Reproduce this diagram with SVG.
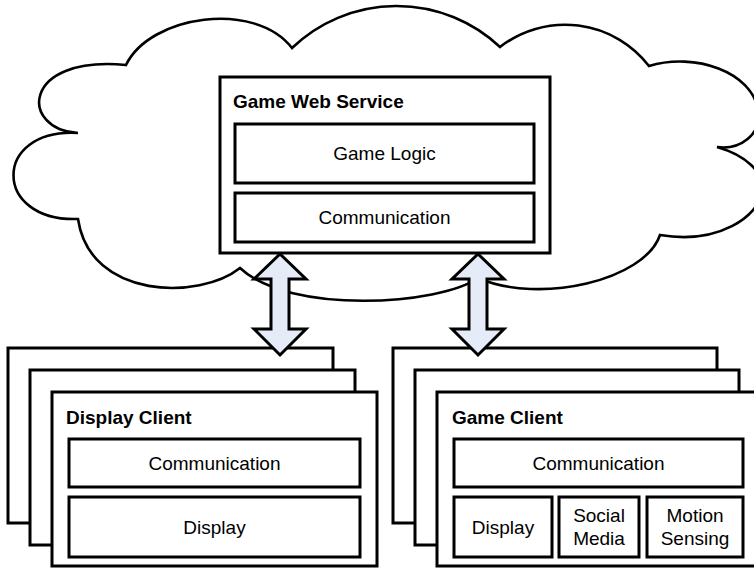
<svg xmlns="http://www.w3.org/2000/svg" width="754" height="570" viewBox="0 0 754 570">
  <style>
    .box { fill: #ffffff; stroke: #000000; stroke-width: 3; }
    .cloud { fill: #ffffff; stroke: #000000; stroke-width: 2.6; stroke-linejoin: miter; }
    .arrow { fill: #e6ecf7; stroke: #000000; stroke-width: 3; stroke-linejoin: miter; }
    .title { font-family: "Liberation Sans", Arial, sans-serif; font-size: 19px; font-weight: bold; fill: #000000; }
    .label { font-family: "Liberation Sans", Arial, sans-serif; font-size: 19px; fill: #000000; text-anchor: middle; }
  </style>
  <rect width="754" height="570" fill="#ffffff"/>

  <!-- cloud -->
  <g id="cloud">
    <path class="cloud" d="M126,65 C150,15 255,0 292,48 A151 151 0 0 1 500,47 A106 106 0 0 1 649,66 C695,52 752,72 758,110 C762,135 740,150 717,147 C745,155 765,172 762,192 C759,215 720,245 660,235 C645,280 540,305 478,278 C440,305 290,315 240,268 C200,300 90,300 78,219 C-8,222 -8,128 78,133 C20,130 20,55 126,65 Z"/>
  </g>

  <!-- web service -->
  <g id="game-web-service">
    <rect class="box" x="220" y="77" width="330" height="176"/>
    <text class="title" x="233" y="108">Game Web Service</text>
    <g id="game-logic">
      <rect class="box" x="235" y="124" width="299" height="59"/>
      <text class="label" x="384.5" y="160">Game Logic</text>
    </g>
    <g id="ws-communication">
      <rect class="box" x="235" y="193" width="299" height="49"/>
      <text class="label" x="384.5" y="224">Communication</text>
    </g>
  </g>

  <!-- display client stack -->
  <g id="display-client">
    <rect class="box" x="8" y="348" width="325" height="175"/>
    <rect class="box" x="30" y="370" width="325" height="175"/>
    <rect class="box" x="52" y="392" width="325" height="174"/>
    <text class="title" x="66" y="424">Display Client</text>
    <g id="dc-communication">
      <rect class="box" x="69" y="439" width="291" height="48"/>
      <text class="label" x="214.5" y="470">Communication</text>
    </g>
    <g id="dc-display">
      <rect class="box" x="69" y="497" width="291" height="60"/>
      <text class="label" x="214.5" y="534">Display</text>
    </g>
  </g>

  <!-- game client stack -->
  <g id="game-client">
    <rect class="box" x="393" y="348" width="324" height="175"/>
    <rect class="box" x="415" y="370" width="324" height="175"/>
    <rect class="box" x="437" y="392" width="324" height="174"/>
    <text class="title" x="452" y="424">Game Client</text>
    <g id="gc-communication">
      <rect class="box" x="454" y="439" width="289" height="48"/>
      <text class="label" x="598.5" y="470">Communication</text>
    </g>
    <g id="gc-display">
      <rect class="box" x="454" y="497" width="98" height="60"/>
      <text class="label" x="503" y="534">Display</text>
    </g>
    <g id="gc-social-media">
      <rect class="box" x="559" y="497" width="80" height="60"/>
      <text class="label" x="599" y="522">Social</text>
      <text class="label" x="599" y="545">Media</text>
    </g>
    <g id="gc-motion-sensing">
      <rect class="box" x="647" y="497" width="96" height="60"/>
      <text class="label" x="695" y="522">Motion</text>
      <text class="label" x="695" y="545">Sensing</text>
    </g>
  </g>

  <!-- two-way connectors -->
  <g id="connectors">
    <polygon class="arrow" points="280,254 306,279 289,279 289,329 306,329 280,355 254,329 271,329 271,279 254,279"/>
    <polygon class="arrow" points="478,254 504,279 487,279 487,329 504,329 478,355 452,329 469,329 469,279 452,279"/>
  </g>
</svg>
